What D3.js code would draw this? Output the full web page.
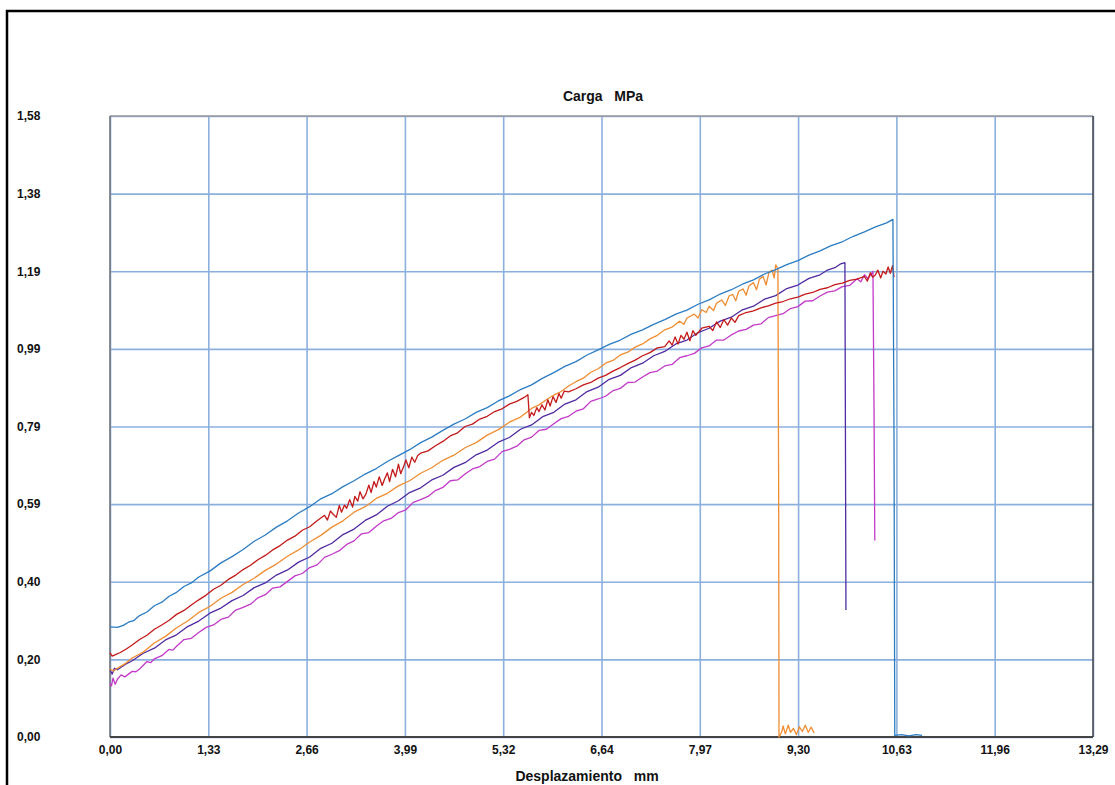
<!DOCTYPE html>
<html><head><meta charset="utf-8">
<script src="https://cdn.jsdelivr.net/npm/d3@7"></script>
<style>body{margin:0;background:#fff;overflow:hidden}text{font-family:"Liberation Sans",Arial,sans-serif;font-weight:bold;fill:#111}</style>
</head><body><svg id="c" width="1115" height="785"></svg>
<script>
// ---- axis ticks ----
const xTickValues = [0, 1.329, 2.658, 3.987, 5.316, 6.645, 7.974, 9.303, 10.632, 11.961, 13.29];
const xTickLabels = ["0,00","1,33","2,66","3,99","5,32","6,64","7,97","9,30","10,63","11,96","13,29"];
const yTickValues = [0, 0.1975, 0.395, 0.5925, 0.79, 0.9875, 1.185, 1.3825, 1.58];
const yTickLabels = ["0,00","0,20","0,40","0,59","0,79","0,99","1,19","1,38","1,58"];
const chartTitle = "Carga   MPa";
const xTitle = "Desplazamiento   mm";

// ---- series (desplazamiento mm, carga MPa) ----
const blueSeries = [[0,0.280],[0.1,0.279],[0.18,0.284],[0.25,0.292],[0.32,0.296],[0.4,0.309],[0.5,0.318],[0.6,0.334],[0.7,0.343],[0.8,0.358],[0.9,0.368],[1.0,0.383],[1.1,0.392],[1.2,0.407],[1.35,0.422],[1.5,0.443],[1.65,0.459],[1.8,0.477],[1.95,0.498],[2.1,0.514],[2.25,0.534],[2.4,0.550],[2.55,0.570],[2.7,0.586],[2.85,0.606],[3.0,0.619],[3.15,0.637],[3.3,0.652],[3.45,0.669],[3.6,0.683],[3.75,0.701],[3.9,0.716],[4.05,0.731],[4.2,0.749],[4.35,0.763],[4.5,0.780],[4.65,0.796],[4.8,0.809],[4.95,0.826],[5.1,0.838],[5.25,0.855],[5.4,0.868],[5.55,0.884],[5.7,0.896],[5.85,0.913],[6.0,0.927],[6.15,0.943],[6.3,0.955],[6.45,0.972],[6.6,0.985],[6.75,0.999],[6.9,1.010],[7.05,1.025],[7.2,1.036],[7.35,1.050],[7.5,1.062],[7.65,1.076],[7.8,1.086],[7.95,1.101],[8.1,1.112],[8.25,1.127],[8.4,1.138],[8.55,1.152],[8.7,1.163],[8.85,1.178],[9.0,1.189],[9.15,1.202],[9.3,1.212],[9.45,1.226],[9.6,1.237],[9.75,1.250],[9.9,1.260],[10.05,1.274],[10.2,1.285],[10.35,1.298],[10.5,1.308],[10.585,1.317],[10.6,0.75],[10.61,0.004],[10.7,0.006],[10.8,0.003],[10.9,0.006],[10.98,0.004]];

const redSeries = [[0,0.214],[0.03,0.206],[0.08,0.210],[0.14,0.215],[0.22,0.224],[0.3,0.234],[0.4,0.248],[0.5,0.259],[0.6,0.274],[0.7,0.285],[0.8,0.297],[0.9,0.312],[1.0,0.322],[1.1,0.336],[1.2,0.349],[1.3,0.361],[1.4,0.376],[1.5,0.386],[1.6,0.401],[1.7,0.412],[1.8,0.426],[1.9,0.437],[2.0,0.451],[2.1,0.462],[2.2,0.476],[2.3,0.487],[2.4,0.501],[2.5,0.511],[2.6,0.526],[2.7,0.535],[2.8,0.550],[2.9,0.564],[2.94,0.552],[2.98,0.575],[3.02,0.566],[3.06,0.559],[3.1,0.589],[3.13,0.572],[3.17,0.590],[3.2,0.582],[3.24,0.604],[3.28,0.585],[3.31,0.612],[3.35,0.600],[3.38,0.624],[3.42,0.606],[3.46,0.618],[3.5,0.641],[3.53,0.622],[3.57,0.650],[3.6,0.636],[3.64,0.662],[3.68,0.640],[3.71,0.655],[3.75,0.672],[3.78,0.650],[3.82,0.681],[3.86,0.662],[3.9,0.694],[3.93,0.670],[3.97,0.688],[4.0,0.705],[4.04,0.685],[4.08,0.712],[4.12,0.699],[4.16,0.716],[4.2,0.722],[4.3,0.728],[4.4,0.741],[4.5,0.752],[4.6,0.766],[4.7,0.774],[4.8,0.790],[4.9,0.796],[5.0,0.809],[5.1,0.816],[5.2,0.828],[5.3,0.835],[5.4,0.847],[5.5,0.854],[5.6,0.864],[5.65,0.871],[5.67,0.812],[5.7,0.826],[5.73,0.818],[5.77,0.838],[5.8,0.828],[5.84,0.845],[5.88,0.832],[5.92,0.858],[5.95,0.842],[5.99,0.866],[6.03,0.851],[6.07,0.874],[6.1,0.862],[6.14,0.880],[6.2,0.878],[6.3,0.886],[6.4,0.896],[6.5,0.902],[6.6,0.913],[6.7,0.920],[6.8,0.931],[6.9,0.940],[7.0,0.950],[7.1,0.959],[7.2,0.970],[7.3,0.978],[7.4,0.990],[7.5,0.993],[7.56,1.008],[7.6,0.997],[7.64,1.018],[7.68,1.000],[7.72,1.022],[7.76,1.012],[7.8,1.030],[7.84,1.008],[7.88,1.034],[7.92,1.022],[8.0,1.040],[8.1,1.045],[8.15,1.034],[8.2,1.056],[8.25,1.042],[8.3,1.062],[8.35,1.048],[8.4,1.066],[8.45,1.055],[8.5,1.072],[8.6,1.080],[8.7,1.084],[8.8,1.092],[8.9,1.097],[9.0,1.104],[9.1,1.108],[9.2,1.115],[9.3,1.119],[9.4,1.127],[9.5,1.131],[9.6,1.139],[9.7,1.143],[9.8,1.151],[9.9,1.155],[10.0,1.162],[10.1,1.165],[10.2,1.172],[10.24,1.160],[10.28,1.181],[10.31,1.170],[10.35,1.176],[10.38,1.188],[10.42,1.168],[10.45,1.185],[10.49,1.178],[10.52,1.196],[10.55,1.180],[10.58,1.199],[10.6,1.17]];

const orangeSeries = [[0,0.172],[0.05,0.168],[0.1,0.175],[0.2,0.186],[0.3,0.201],[0.45,0.216],[0.6,0.239],[0.75,0.256],[0.9,0.278],[1.05,0.295],[1.2,0.317],[1.35,0.332],[1.5,0.353],[1.65,0.368],[1.8,0.388],[1.95,0.404],[2.1,0.424],[2.25,0.440],[2.4,0.460],[2.55,0.476],[2.7,0.496],[2.85,0.513],[3.0,0.534],[3.15,0.550],[3.3,0.572],[3.45,0.586],[3.6,0.607],[3.75,0.620],[3.9,0.639],[4.05,0.652],[4.2,0.671],[4.35,0.685],[4.5,0.704],[4.65,0.717],[4.8,0.736],[4.95,0.749],[5.1,0.768],[5.25,0.782],[5.4,0.801],[5.55,0.814],[5.7,0.836],[5.8,0.845],[5.9,0.858],[6.0,0.870],[6.1,0.879],[6.2,0.893],[6.3,0.904],[6.4,0.913],[6.5,0.928],[6.6,0.937],[6.7,0.951],[6.8,0.958],[6.9,0.972],[7.0,0.979],[7.1,0.992],[7.2,1.000],[7.3,1.013],[7.4,1.022],[7.5,1.036],[7.6,1.043],[7.7,1.058],[7.76,1.050],[7.8,1.066],[7.9,1.076],[7.95,1.066],[8.0,1.087],[8.06,1.080],[8.1,1.096],[8.16,1.085],[8.2,1.104],[8.27,1.112],[8.32,1.098],[8.37,1.122],[8.42,1.126],[8.46,1.110],[8.5,1.134],[8.56,1.140],[8.6,1.124],[8.64,1.148],[8.7,1.156],[8.74,1.138],[8.78,1.165],[8.83,1.172],[8.87,1.150],[8.91,1.182],[8.95,1.188],[8.98,1.168],[9.0,1.201],[9.03,1.192],[9.04,0.64],[9.045,0.0],[9.08,0.012],[9.1,0.028],[9.13,0.008],[9.17,0.030],[9.2,0.012],[9.24,0.022],[9.28,0.006],[9.32,0.026],[9.36,0.014],[9.4,0.030],[9.44,0.012],[9.48,0.025],[9.52,0.010]];

const purpleSeries = [[0,0.170],[0.03,0.160],[0.06,0.175],[0.1,0.171],[0.2,0.184],[0.3,0.194],[0.45,0.213],[0.6,0.226],[0.75,0.247],[0.9,0.260],[1.05,0.281],[1.2,0.295],[1.35,0.315],[1.5,0.328],[1.65,0.347],[1.8,0.360],[1.95,0.380],[2.1,0.392],[2.25,0.412],[2.4,0.425],[2.55,0.445],[2.7,0.458],[2.85,0.480],[3.0,0.493],[3.15,0.515],[3.3,0.529],[3.45,0.551],[3.6,0.565],[3.75,0.587],[3.9,0.601],[4.05,0.622],[4.2,0.634],[4.35,0.654],[4.5,0.666],[4.65,0.686],[4.8,0.698],[4.95,0.718],[5.1,0.730],[5.25,0.750],[5.4,0.762],[5.55,0.783],[5.7,0.794],[5.85,0.815],[6.0,0.826],[6.15,0.847],[6.3,0.858],[6.45,0.879],[6.6,0.890],[6.75,0.910],[6.9,0.920],[7.05,0.940],[7.2,0.951],[7.35,0.970],[7.5,0.981],[7.65,1.000],[7.8,1.010],[7.95,1.029],[8.1,1.040],[8.25,1.058],[8.4,1.068],[8.55,1.087],[8.7,1.096],[8.85,1.114],[9.0,1.123],[9.15,1.141],[9.3,1.150],[9.45,1.167],[9.6,1.176],[9.7,1.188],[9.8,1.194],[9.87,1.203],[9.936,1.207],[9.95,0.323]];

const magentaSeries = [[0,0.137],[0.02,0.130],[0.04,0.150],[0.07,0.134],[0.1,0.147],[0.15,0.158],[0.2,0.153],[0.3,0.167],[0.35,0.166],[0.4,0.173],[0.5,0.192],[0.55,0.189],[0.6,0.199],[0.7,0.207],[0.8,0.223],[0.85,0.221],[0.9,0.231],[1.0,0.248],[1.1,0.251],[1.2,0.266],[1.3,0.279],[1.4,0.285],[1.5,0.299],[1.6,0.305],[1.7,0.323],[1.8,0.330],[1.9,0.338],[2.0,0.354],[2.1,0.362],[2.2,0.379],[2.3,0.382],[2.4,0.396],[2.5,0.410],[2.6,0.416],[2.7,0.431],[2.8,0.438],[2.9,0.457],[3.0,0.465],[3.1,0.474],[3.2,0.490],[3.3,0.499],[3.4,0.517],[3.5,0.520],[3.6,0.536],[3.7,0.550],[3.8,0.556],[3.9,0.571],[4.0,0.578],[4.1,0.597],[4.2,0.604],[4.3,0.612],[4.4,0.627],[4.5,0.635],[4.6,0.652],[4.7,0.654],[4.8,0.669],[4.9,0.682],[5.0,0.688],[5.1,0.701],[5.2,0.707],[5.3,0.726],[5.4,0.732],[5.5,0.740],[5.6,0.756],[5.7,0.763],[5.8,0.780],[5.9,0.783],[6.0,0.797],[6.1,0.810],[6.2,0.816],[6.3,0.829],[6.4,0.835],[6.5,0.854],[6.6,0.860],[6.7,0.867],[6.8,0.881],[6.9,0.887],[7.0,0.902],[7.1,0.903],[7.2,0.916],[7.3,0.927],[7.4,0.931],[7.5,0.944],[7.6,0.948],[7.7,0.965],[7.8,0.970],[7.9,0.976],[8.0,0.990],[8.1,0.995],[8.2,1.010],[8.3,1.010],[8.4,1.023],[8.5,1.033],[8.6,1.037],[8.7,1.048],[8.8,1.051],[8.9,1.067],[9.0,1.072],[9.1,1.077],[9.2,1.090],[9.3,1.095],[9.4,1.109],[9.5,1.110],[9.6,1.122],[9.7,1.132],[9.8,1.135],[9.9,1.146],[10.0,1.149],[10.1,1.166],[10.15,1.158],[10.2,1.176],[10.25,1.166],[10.315,1.185],[10.33,0.82],[10.34,0.50]];

const seriesList = [
  {data: magentaSeries, color: "#c23ac8"},
  {data: purpleSeries, color: "#4f2aa0"},
  {data: orangeSeries, color: "#ef8d33"},
  {data: redSeries, color: "#c41a1a"},
  {data: blueSeries, color: "#2c7cc2"}
];

// ---- drawing ----
const svg = d3.select("#c");
const x = d3.scaleLinear().domain([0, 13.29]).range([110, 1093]);
const y = d3.scaleLinear().domain([0, 1.58]).range([737, 116]);
const W = x.range()[1] - x.range()[0];
const H = y.range()[0] - y.range()[1];

svg.append("rect").attr("width",1115).attr("height",785).attr("fill","#fff");
// outer frame (runs off the right/bottom edges)
svg.append("rect").attr("x",7).attr("y",11).attr("width",1200).attr("height",900)
  .attr("fill","none").attr("stroke","#000").attr("stroke-width",2.5);

// x grid + labels
const gx = svg.append("g").attr("transform",`translate(0,${y(0)})`)
  .call(d3.axisBottom(x).tickValues(xTickValues).tickSize(-H).tickPadding(0)
    .tickFormat((d,i)=>xTickLabels[i]));
gx.select(".domain").remove();
gx.selectAll(".tick line").attr("stroke","#8cb0de").attr("stroke-width",1.6);
gx.selectAll(".tick text").attr("y",8).attr("dy","0.71em").style("font-size","12px")
  .style("font-family","'Liberation Sans',Arial,sans-serif").style("font-weight","bold").attr("fill","#111");

// y grid + labels
const gy = svg.append("g").attr("transform",`translate(${x(0)},0)`)
  .call(d3.axisLeft(y).tickValues(yTickValues).tickSize(-W).tickPadding(0)
    .tickFormat((d,i)=>yTickLabels[i]));
gy.select(".domain").remove();
gy.selectAll(".tick line").attr("stroke","#8cb0de").attr("stroke-width",1.6);
gy.selectAll(".tick text").attr("x",17 - x(0)).attr("text-anchor","start").attr("dy","0.32em")
  .style("font-size","12px").style("font-family","'Liberation Sans',Arial,sans-serif")
  .style("font-weight","bold").attr("fill","#111");

// plot frame
const fr = svg.append("g");
fr.append("line").attr("x1",x(0)).attr("x2",x(13.29)).attr("y1",y(1.58)).attr("y2",y(1.58)).attr("stroke","#9a9a9a").attr("stroke-width",1.5);
fr.append("line").attr("x1",x(0)).attr("x2",x(0)).attr("y1",y(1.58)).attr("y2",y(0)).attr("stroke","#707070").attr("stroke-width",1.5);
fr.append("line").attr("x1",x(13.29)).attr("x2",x(13.29)).attr("y1",y(1.58)).attr("y2",y(0)).attr("stroke","#444").attr("stroke-width",1.5);
fr.append("line").attr("x1",x(0)).attr("x2",x(13.29)).attr("y1",y(0)).attr("y2",y(0)).attr("stroke","#444").attr("stroke-width",1.8);

// curves
const line = d3.line().x(d=>x(d[0])).y(d=>y(d[1]));
svg.append("g").selectAll("path").data(seriesList).join("path")
  .attr("d", s=>line(s.data)).attr("fill","none")
  .attr("stroke", s=>s.color).attr("stroke-width",1.3).attr("stroke-linejoin","round");

// titles
svg.append("text").attr("x",603).attr("y",101).attr("text-anchor","middle")
  .style("font-size","14px").style("white-space","pre").text(chartTitle);
svg.append("text").attr("x",587).attr("y",781).attr("text-anchor","middle")
  .style("font-size","14px").style("white-space","pre").text(xTitle);
</script></body></html>
